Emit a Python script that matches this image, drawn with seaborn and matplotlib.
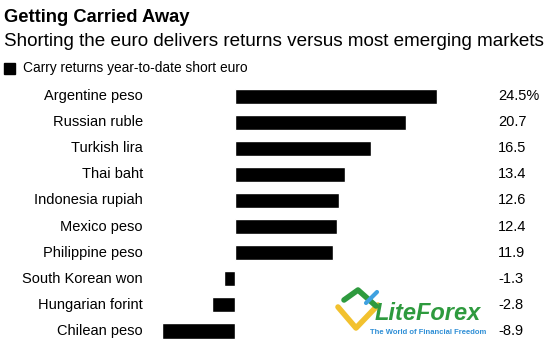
import pandas as pd
import matplotlib.pyplot as plt
import matplotlib.transforms as mtrans
import seaborn as sns

currencies = ['Argentine peso', 'Russian ruble', 'Turkish lira', 'Thai baht',
              'Indonesia rupiah', 'Mexico peso', 'Philippine peso',
              'South Korean won', 'Hungarian forint', 'Chilean peso']
returns = [24.5, 20.7, 16.5, 13.4, 12.6, 12.4, 11.9, -1.3, -2.8, -8.9]
value_labels = ['24.5%', '20.7', '16.5', '13.4', '12.6', '12.4', '11.9',
                '-1.3', '-2.8', '-8.9']

df = pd.DataFrame({'currency': currencies, 'ret': returns})

sns.set_theme(style="white")
plt.rcParams['font.family'] = ['Liberation Sans', 'DejaVu Sans']
plt.rcParams['text.color'] = 'black'

fig = plt.figure(figsize=(5.59, 3.61), dpi=100)
ax = fig.add_axes([0.273, 0.047, 0.516, 0.723])
sns.barplot(data=df, x='ret', y='currency', color='black', width=0.58,
            saturation=1, ax=ax)
ax.set_xlim(-10, 25)
ax.set_ylim(9.5, -0.5)
ax.axis('off')

trans = mtrans.blended_transform_factory(fig.transFigure, ax.transData)
for i, (name, lab) in enumerate(zip(currencies, value_labels)):
    ax.text(143 / 559, i, name, transform=trans, ha='right', va='center',
            fontsize=10.5, color='black')
    ax.text(498 / 559, i, lab, transform=trans, ha='left', va='center',
            fontsize=10.5, color='black')

fig.text(4 / 559, 1 - 17 / 361, 'Getting Carried Away', fontsize=13.2,
         fontweight='bold', va='center', ha='left', color='black')
fig.text(4 / 559, 1 - 41 / 361,
         'Shorting the euro delivers returns versus most emerging markets',
         fontsize=13.6, va='center', ha='left', color='black')
fig.patches.append(plt.Rectangle((4 / 559, 1 - 74 / 361), 11 / 559, 11 / 361,
                                 transform=fig.transFigure, color='black'))
fig.text(23 / 559, 1 - 68 / 361, 'Carry returns year-to-date short euro',
         fontsize=9.9, va='center', ha='left', color='black')

# watermark
fig.text(375 / 559, 1 - 314 / 361, 'LiteForex', fontsize=17, fontweight='bold',
         style='italic', color='#2e9a3e', va='center', ha='left')
fig.text(370 / 559, 1 - 332 / 361, 'The World of Financial Freedom',
         fontsize=5.5, fontweight='bold', color='#2f8fd6', va='center', ha='left')
fig.add_artist(plt.Line2D([338 / 559, 356 / 559, 378 / 559],
                          [1 - 307 / 361, 1 - 328 / 361, 1 - 305 / 361],
                          transform=fig.transFigure, color='#f2c12e', lw=4))
fig.add_artist(plt.Line2D([344 / 559, 358 / 559, 376 / 559],
                          [1 - 300 / 361, 1 - 290 / 361, 1 - 306 / 361],
                          transform=fig.transFigure, color='#2e9a3e', lw=4))
fig.add_artist(plt.Line2D([366 / 559, 377 / 559],
                          [1 - 303 / 361, 1 - 292 / 361],
                          transform=fig.transFigure, color='#3fa1e0', lw=3))

fig.savefig('out.png', dpi=100)
